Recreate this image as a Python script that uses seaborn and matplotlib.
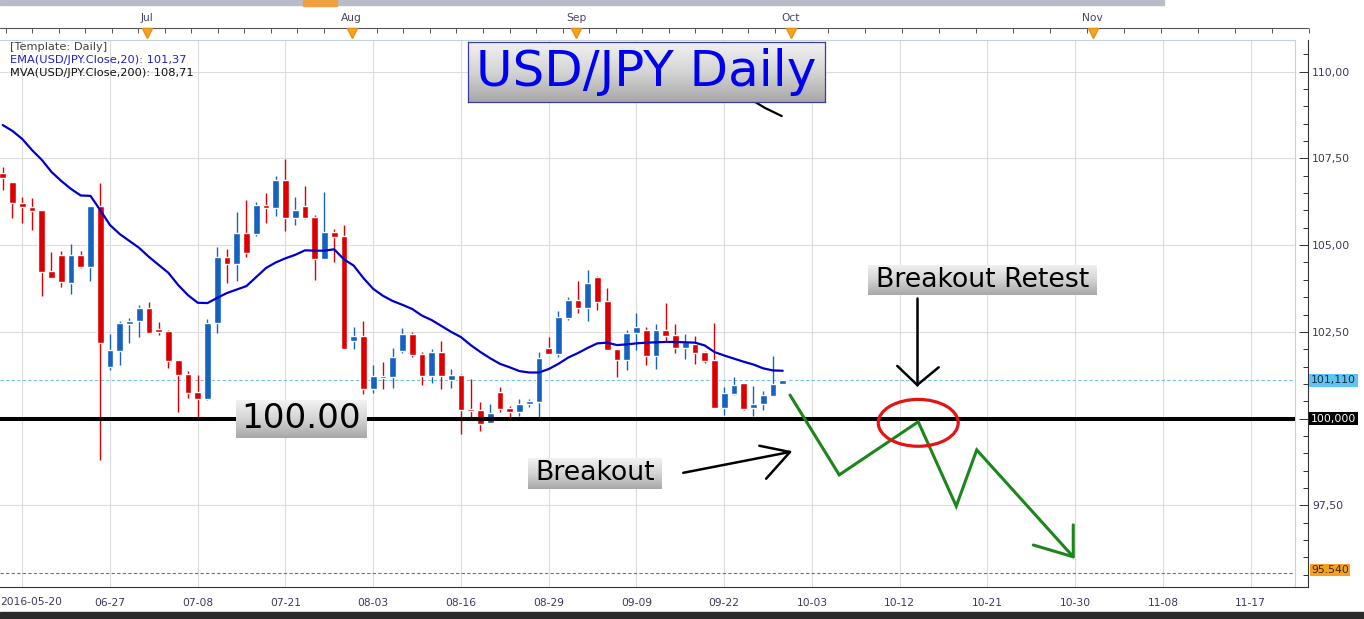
import numpy as np
import pandas as pd
import matplotlib
matplotlib.use("Agg")
import matplotlib.pyplot as plt
import matplotlib.transforms as mtransforms
from matplotlib.colors import LinearSegmentedColormap
from matplotlib.patches import Ellipse, Rectangle
import seaborn as sns

# USD/JPY daily bars, 2016-06-10 .. 2016-09-30 (one entry per trading day)
opens = [107.07, 106.81, 106.21, 106.09, 106.01, 104.26, 104.72, 103.92, 104.72, 104.38,
         106.13, 101.50, 101.96, 102.74, 102.80, 103.18, 102.58, 102.53, 101.69, 101.28,
         100.76, 100.58, 102.75, 104.67, 104.46, 105.36, 105.32, 106.16, 106.08, 106.88,
         105.79, 106.13, 105.82, 104.61, 105.39, 105.27, 102.25, 102.38, 100.86, 101.23,
         101.19, 101.96, 102.44, 101.86, 101.24, 101.91, 101.12, 101.26, 100.28, 100.25,
         99.87, 100.76, 100.30, 100.20, 100.41, 100.49, 102.05, 101.86, 102.91, 103.42,
         103.20, 104.09, 103.39, 102.01, 101.69, 102.46, 102.56, 101.81, 102.56, 102.41,
         102.05, 102.15, 101.93, 101.69, 100.30, 100.71, 101.02, 100.30, 100.41, 100.66,
         100.99]
highs = [107.25, 106.83, 106.40, 106.35, 106.01, 104.81, 104.83, 105.03, 104.83, 106.13,
         106.80, 102.43, 102.82, 102.89, 103.28, 103.35, 102.78, 102.55, 101.70, 101.38,
         101.26, 102.86, 104.96, 104.88, 105.95, 106.30, 106.24, 106.51, 107.00, 107.48,
         106.38, 106.71, 105.87, 106.54, 105.47, 105.58, 102.65, 102.80, 101.55, 101.64,
         102.04, 102.61, 102.51, 101.93, 102.01, 102.24, 101.42, 101.28, 101.14, 100.47,
         100.42, 100.92, 100.37, 100.56, 100.56, 101.91, 102.35, 103.10, 103.50, 103.97,
         104.29, 104.12, 103.76, 102.01, 102.56, 103.04, 102.65, 102.73, 103.34, 102.73,
         102.44, 102.38, 101.96, 102.77, 100.90, 101.19, 101.04, 100.94, 100.80, 101.81,
         101.12]
lows = [106.59, 105.78, 105.65, 105.44, 103.54, 104.06, 103.80, 103.59, 104.33, 103.97,
        98.81, 101.40, 101.55, 102.19, 102.36, 102.46, 102.41, 101.47, 100.20, 100.59,
        100.06, 100.54, 102.46, 103.92, 103.98, 104.65, 105.27, 105.65, 105.84, 105.41,
        105.58, 105.75, 104.00, 104.61, 104.50, 102.00, 102.01, 100.71, 100.75, 100.86,
        100.88, 101.88, 101.79, 100.97, 101.02, 100.85, 100.88, 99.55, 100.04, 99.65,
        99.87, 100.20, 100.06, 100.09, 100.35, 100.06, 101.86, 101.77, 102.84, 103.05,
        102.80, 103.13, 101.98, 101.21, 101.40, 101.98, 101.55, 101.42, 102.25, 101.90,
        101.72, 101.58, 101.60, 100.30, 100.11, 100.68, 100.25, 100.09, 100.25, 100.66,
        100.99]
closes = [106.93, 106.21, 106.09, 105.99, 104.24, 104.06, 103.93, 104.72, 104.38, 106.13,
          102.19, 101.98, 102.77, 102.82, 103.18, 102.46, 102.49, 101.67, 101.26, 100.75,
          100.56, 102.77, 104.67, 104.46, 105.36, 104.78, 106.16, 106.08, 106.88, 105.79,
          106.01, 105.79, 104.61, 105.39, 105.24, 102.00, 102.38, 100.86, 101.23, 101.18,
          101.79, 102.44, 101.84, 101.24, 101.91, 101.24, 101.26, 100.25, 100.22, 99.85,
          100.16, 100.28, 100.20, 100.42, 100.51, 101.76, 101.86, 102.92, 103.42, 103.20,
          103.90, 103.37, 101.98, 101.69, 102.46, 102.63, 101.81, 102.56, 102.39, 102.05,
          102.22, 101.90, 101.67, 100.30, 100.73, 100.96, 100.28, 100.42, 100.68, 101.00,
          101.11]
ema20 = [108.46, 108.29, 108.06, 107.74, 107.46, 107.11, 106.85, 106.62, 106.43, 106.42,
         106.01, 105.58, 105.32, 105.12, 104.92, 104.66, 104.43, 104.20, 103.85, 103.56,
         103.34, 103.33, 103.48, 103.62, 103.72, 103.82, 104.08, 104.34, 104.50, 104.62,
         104.72, 104.85, 104.84, 104.84, 104.88, 104.59, 104.41, 104.05, 103.74, 103.54,
         103.39, 103.28, 103.16, 102.97, 102.84, 102.67, 102.50, 102.35, 102.12, 101.92,
         101.74, 101.58, 101.48, 101.37, 101.33, 101.33, 101.43, 101.58, 101.76, 101.89,
         102.04, 102.17, 102.19, 102.12, 102.14, 102.17, 102.19, 102.20, 102.21, 102.21,
         102.20, 102.19, 102.11, 101.92, 101.82, 101.73, 101.64, 101.56, 101.45, 101.39,
         101.38]

# bottom axis labels (one every 9 bars, starting at bar 2)
date_labels = ['2016-05-20', '06-27', '07-08', '07-21', '08-03', '08-16', '08-29', '09-09',
               '09-22', '10-03', '10-12', '10-21', '10-30', '11-08', '11-17']
month_names = ['Jul', 'Aug', 'Sep', 'Oct', 'Nov']
month_pos = [14.8, 35.8, 58.8, 80.8, 111.8]

last_price = 101.11
support = 100.0
low_line = 95.54

# hand drawn projection (bar position, price)
path_x = [80.75, 85.8, 93.9, 97.8, 99.9, 109.8]
path_y = [100.68, 98.38, 99.91, 97.48, 99.10, 96.02]

BLUE = '#1562c2'
RED = '#de0000'
W, H = 1364, 619

sns.set_style("white")
plt.rcParams['font.family'] = ['DejaVu Sans']

fig = plt.figure(figsize=(W / 100, H / 100), dpi=100)
fig.patch.set_facecolor('white')
ax = fig.add_axes([0, 1 - 587 / H, 1295 / W, 547 / H])

df = pd.DataFrame({'bar': np.arange(len(opens)), 'open': opens, 'high': highs,
                   'low': lows, 'close': closes, 'ema': ema20})
cols = np.where(df['close'] >= df['open'], BLUE, RED)

# grid
major = np.arange(2, 129, 9)
for xv in major:
    ax.axvline(xv, color='#dcdcdc', lw=0.8, zorder=0)
for yv in [97.5, 100, 102.5, 105, 107.5, 110]:
    ax.axhline(yv, color='#dcdcdc', lw=0.8, zorder=0)

ax.axhline(last_price, color='#78c0e8', lw=0.8, ls=(0, (3, 2)), zorder=1)
ax.axhline(low_line, color='#4a78c0', lw=0.8, ls=(0, (3, 2)), zorder=1)

# candles
ax.vlines(df['bar'], df['low'], df['high'], colors=cols, lw=1.0, zorder=3)
body_lo = np.minimum(df['open'], df['close'])
body_h = np.maximum((df['close'] - df['open']).abs(), 0.05)
ax.bar(df['bar'], body_h, bottom=body_lo, width=0.68, color=cols, zorder=4)

sns.lineplot(data=df, x='bar', y='ema', color='#0000cc', lw=1.6, ax=ax, zorder=5)

ax.axhline(support, color='black', lw=2.9, zorder=6)

# projection drawing
ax.plot(path_x, path_y, color='#1c861c', lw=2.2, zorder=7, solid_joinstyle='miter')
ax.plot([105.7, 109.8, 109.8], [96.36, 96.02, 96.94], color='#1c861c', lw=2.2, zorder=7)
ax.add_patch(Ellipse((93.9, 99.88), 8.2, 1.35, fill=False, ec='#e41414', lw=2.3, zorder=8))
ax.plot([93.8, 93.8], [103.47, 100.97], color='black', lw=1.8, zorder=8)
ax.plot([91.75, 93.8, 96.0], [101.52, 100.97, 101.48], color='black', lw=1.8, zorder=8)
ax.plot([69.8, 80.75], [98.44, 99.04], color='black', lw=1.8, zorder=8)
ax.plot([77.6, 80.75, 78.3], [99.22, 99.04, 98.27], color='black', lw=1.8, zorder=8)
ax.plot([75.8, 77.2, 78.2, 79.9], [109.21, 109.12, 108.95, 108.72], color='black', lw=1.6, zorder=8)

ax.set_xlim(-2.7 / 9.75, 1292.3 / 9.75)
ax.set_ylim(95.15, 110.91)
ax.set_xlabel('')
ax.set_ylabel('')

# axes styling
ax.spines['left'].set_visible(False)
ax.spines['top'].set_color('#c8d0d8')
ax.spines['bottom'].set_color('#333333')
ax.spines['right'].set_color('#333333')
ax.spines['right'].set_position(('outward', 9.4))
ax.plot([1, 1], [0, 1], transform=ax.transAxes, color='#c8d0d8', lw=0.8, clip_on=False)
ax.plot([1, 1308 / 1295], [0, 0], transform=ax.transAxes, color='#333333', lw=0.8, clip_on=False)

ax.yaxis.tick_right()
ax.set_yticks([97.5, 100, 102.5, 105, 107.5, 110],
              ['97,50', '', '102,50', '105,00', '107,50', '110,00'])
ax.set_yticks(np.arange(95.5, 110.6, 0.5), minor=True)
ax.tick_params(axis='y', which='major', direction='in', length=6.5, width=0.7,
               colors='#333333', labelcolor='#3a3a5c', labelsize=7.8, pad=3)
ax.tick_params(axis='y', which='minor', direction='in', length=3.5, width=0.7, colors='#333333')

ax.set_xticks(major, [''] + date_labels[1:])
ax.set_xticks(np.concatenate([m + np.array([1.8, 3.6, 5.4, 7.2]) for m in major[:-1]]), minor=True)
ax.tick_params(axis='x', which='major', direction='in', length=8.5, width=0.7,
               colors='#333333', labelcolor='#3a3a5c', labelsize=7.7, pad=8)
ax.tick_params(axis='x', which='minor', direction='in', length=3, width=0.7, colors='#333333')

xt = ax.get_xaxis_transform()
ax.text(-0.25, -0.0274, date_labels[0], transform=xt, ha='left', va='center',
        fontsize=7.7, color='#3a3a5c')

# top month ruler
ry = (587 - 28) / 547
ty = (587 - 33) / 547
ax.plot([-0.3, 133.9], [ry, ry], transform=xt, color='#555555', lw=0.8, clip_on=False)
ruler = np.concatenate([np.arange(0.3, 80, 2.72), np.arange(80.8, 134, 3.8)])
ax.vlines(ruler, ty, ry, transform=xt, color='#555555', lw=0.7, clip_on=False)
ax.plot(month_pos, [1.0128] * len(month_pos), 'v', transform=xt, ms=7, color='#f5a524',
        mec='#e89010', clip_on=False, zorder=9)
for m, p in zip(month_names, month_pos):
    ax.text(p, (587 - 18) / 547, m, transform=xt, ha='center', va='center',
            fontsize=7.7, color='#44446a')

# price tags on the right axis
yt = mtransforms.blended_transform_factory(ax.transAxes, ax.transData)
ax.text(1311 / 1295, last_price, '101,110', transform=yt, ha='left', va='center',
        fontsize=7.8, color='#1a2a3a', bbox=dict(fc='#5ec4f4', ec='none', pad=1.2))
ax.text(1311 / 1295, support, '100,000', transform=yt, ha='left', va='center',
        fontsize=7.8, color='white', bbox=dict(fc='black', ec='none', pad=1.2))
ax.text(1311 / 1295, low_line + 0.1, '95.540', transform=yt, ha='left', va='center',
        fontsize=7.8, color='#3a2a10', bbox=dict(fc='#f4a020', ec='none', pad=1.0))

# indicator legend
fig.text(10 / W, 1 - 47 / H, '[Template: Daily]', fontsize=8.2, color='#444444', va='center')
fig.text(10 / W, 1 - 60 / H, 'EMA(USD/JPY.Close,20): 101,37', fontsize=8.2, color='#2020c8', va='center')
fig.text(10 / W, 1 - 73 / H, 'MVA(USD/JPY.Close,200): 108,71', fontsize=8.2, color='#111111', va='center')

# window chrome
fig.patches.append(Rectangle((0, 1 - 5 / H), 1164 / W, 5 / H, transform=fig.transFigure,
                             color='#b8bcc8', zorder=0))
fig.patches.append(Rectangle((303 / W, 1 - 6 / H), 34 / W, 6 / H, transform=fig.transFigure,
                             color='#f0a040', zorder=0))
fig.patches.append(Rectangle((0, 0), 1, 7 / H, transform=fig.transFigure,
                             color='#2b2b2b', zorder=0))

grey = LinearSegmentedColormap.from_list('g', ['#f2f2f2', '#d4d4d4', '#a8a8a8'])


def label_box(x0, y0, x1, y1, text, size, color='black', edge=None):
    bax = fig.add_axes([x0 / W, 1 - y1 / H, (x1 - x0) / W, (y1 - y0) / H])
    bax.imshow(np.linspace(0, 1, 64).reshape(-1, 1), aspect='auto', cmap=grey,
               extent=[0, 1, 0, 1], origin='upper')
    bax.set_xticks([])
    bax.set_yticks([])
    for sp in bax.spines.values():
        if edge:
            sp.set_color(edge)
            sp.set_linewidth(0.9)
        else:
            sp.set_visible(False)
    bax.text(0.5, 0.5, text, transform=bax.transAxes, ha='center', va='center',
             fontsize=size, color=color)


label_box(468, 42, 825, 102, 'USD/JPY Daily', 36, color='#0000f0', edge='#3a3aa8')
label_box(868, 265, 1097, 295, 'Breakout Retest', 19.3)
label_box(528, 458, 662, 489, 'Breakout', 19.3)
label_box(236, 400, 367, 438, '100.00', 24.7)

fig.savefig('out.png', dpi=100)
